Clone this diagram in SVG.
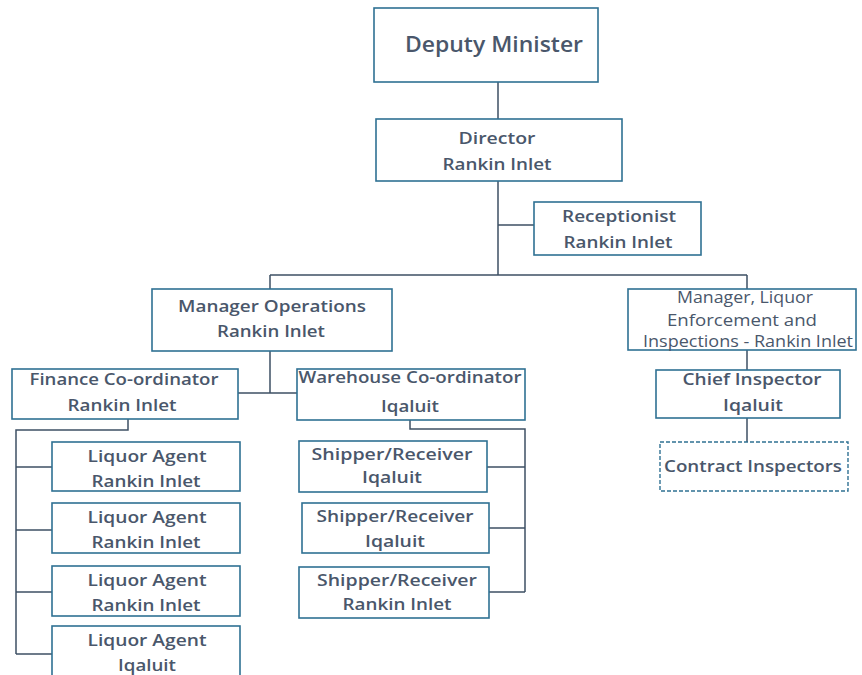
<svg xmlns="http://www.w3.org/2000/svg" width="862" height="675" viewBox="0 0 862 675">
<style>
.box{fill:#ffffff;stroke:#2f7193;stroke-width:1.6}
.dash{fill:#ffffff;stroke:#2f7193;stroke-width:1.4;stroke-dasharray:4 2}
.ln{fill:none;stroke:#3e5064;stroke-width:1.5}
text{font-family:"Open Sans","Liberation Sans",sans-serif;font-weight:600;font-size:17px;fill:#4a576b;text-anchor:middle}
.big{font-size:21px}
.thin{font-weight:400;font-size:16px}
</style>
<rect width="862" height="675" fill="#ffffff"/>
<g id="connectors">
<path class="ln" d="M498 82V119M498 181V275M498 225H534M270 275H747M270 275V289M747 275V289"/>
<path class="ln" d="M270 351V393M238 393H298"/>
<path class="ln" d="M128 419V430H16V654M16 467H52M16 530H52M16 592H52M16 654H52"/>
<path class="ln" d="M410 420V429H525V592M487 467H525M489 528H525M489 592H525"/>
<path class="ln" d="M747 350V370M747 418V442"/>
</g>
<g id="deputy-minister">
<rect class="box" x="374" y="8" width="224" height="74"/>
<text class="big" x="494" y="52" textLength="178" lengthAdjust="spacingAndGlyphs">Deputy Minister</text>
</g>
<g id="director">
<rect class="box" x="376" y="119" width="246" height="62"/>
<text x="497" y="144" textLength="77" lengthAdjust="spacingAndGlyphs">Director</text>
<text x="497" y="170" textLength="109" lengthAdjust="spacingAndGlyphs">Rankin Inlet</text>
</g>
<g id="receptionist">
<rect class="box" x="534" y="202" width="167" height="53"/>
<text x="619" y="222" textLength="114" lengthAdjust="spacingAndGlyphs">Receptionist</text>
<text x="618" y="248" textLength="109" lengthAdjust="spacingAndGlyphs">Rankin Inlet</text>
</g>
<g id="manager-operations">
<rect class="box" x="152" y="289" width="240" height="62"/>
<text x="272" y="312" textLength="188" lengthAdjust="spacingAndGlyphs">Manager Operations</text>
<text x="271" y="337" textLength="108" lengthAdjust="spacingAndGlyphs">Rankin Inlet</text>
</g>
<g id="manager-liquor">
<rect class="box" x="628" y="289" width="228" height="61"/>
<text class="thin" x="745" y="303" textLength="136" lengthAdjust="spacingAndGlyphs">Manager, Liquor</text>
<text class="thin" x="742" y="326" textLength="150" lengthAdjust="spacingAndGlyphs">Enforcement and</text>
<text class="thin" x="748" y="347" textLength="210" lengthAdjust="spacingAndGlyphs">Inspections - Rankin Inlet</text>
</g>
<g id="finance-coordinator">
<rect class="box" x="12" y="369" width="226" height="50"/>
<text x="124" y="385" textLength="189" lengthAdjust="spacingAndGlyphs">Finance Co-ordinator</text>
<text x="122" y="411" textLength="109" lengthAdjust="spacingAndGlyphs">Rankin Inlet</text>
</g>
<g id="warehouse-coordinator">
<rect class="box" x="297" y="369" width="228" height="51"/>
<text x="410" y="383" textLength="223" lengthAdjust="spacingAndGlyphs">Warehouse Co-ordinator</text>
<text x="410" y="412" textLength="58" lengthAdjust="spacingAndGlyphs">Iqaluit</text>
</g>
<g id="chief-inspector">
<rect class="box" x="656" y="370" width="184" height="48"/>
<text x="752" y="385" textLength="139" lengthAdjust="spacingAndGlyphs">Chief Inspector</text>
<text x="753" y="411" textLength="60" lengthAdjust="spacingAndGlyphs">Iqaluit</text>
</g>
<g id="contract-inspectors">
<rect class="dash" x="660" y="442" width="188" height="49"/>
<text x="753" y="472" textLength="178" lengthAdjust="spacingAndGlyphs">Contract Inspectors</text>
</g>
<g id="liquor-agent-1">
<rect class="box" x="52" y="442" width="188" height="49"/>
<text x="147" y="462" textLength="119" lengthAdjust="spacingAndGlyphs">Liquor Agent</text>
<text x="146" y="487" textLength="109" lengthAdjust="spacingAndGlyphs">Rankin Inlet</text>
</g>
<g id="liquor-agent-2">
<rect class="box" x="52" y="503" width="188" height="50"/>
<text x="147" y="523" textLength="119" lengthAdjust="spacingAndGlyphs">Liquor Agent</text>
<text x="146" y="548" textLength="109" lengthAdjust="spacingAndGlyphs">Rankin Inlet</text>
</g>
<g id="liquor-agent-3">
<rect class="box" x="52" y="566" width="188" height="50"/>
<text x="147" y="586" textLength="119" lengthAdjust="spacingAndGlyphs">Liquor Agent</text>
<text x="146" y="611" textLength="109" lengthAdjust="spacingAndGlyphs">Rankin Inlet</text>
</g>
<g id="liquor-agent-4">
<rect class="box" x="52" y="626" width="188" height="52"/>
<text x="147" y="646" textLength="119" lengthAdjust="spacingAndGlyphs">Liquor Agent</text>
<text x="147" y="671" textLength="58" lengthAdjust="spacingAndGlyphs">Iqaluit</text>
</g>
<g id="shipper-receiver-1">
<rect class="box" x="299" y="441" width="188" height="51"/>
<text x="392" y="460" textLength="161" lengthAdjust="spacingAndGlyphs">Shipper/Receiver</text>
<text x="392" y="483" textLength="60" lengthAdjust="spacingAndGlyphs">Iqaluit</text>
</g>
<g id="shipper-receiver-2">
<rect class="box" x="302" y="503" width="187" height="50"/>
<text x="395" y="522" textLength="157" lengthAdjust="spacingAndGlyphs">Shipper/Receiver</text>
<text x="395" y="547" textLength="60" lengthAdjust="spacingAndGlyphs">Iqaluit</text>
</g>
<g id="shipper-receiver-3">
<rect class="box" x="299" y="567" width="190" height="51"/>
<text x="397" y="586" textLength="160" lengthAdjust="spacingAndGlyphs">Shipper/Receiver</text>
<text x="397" y="610" textLength="109" lengthAdjust="spacingAndGlyphs">Rankin Inlet</text>
</g>
</svg>
